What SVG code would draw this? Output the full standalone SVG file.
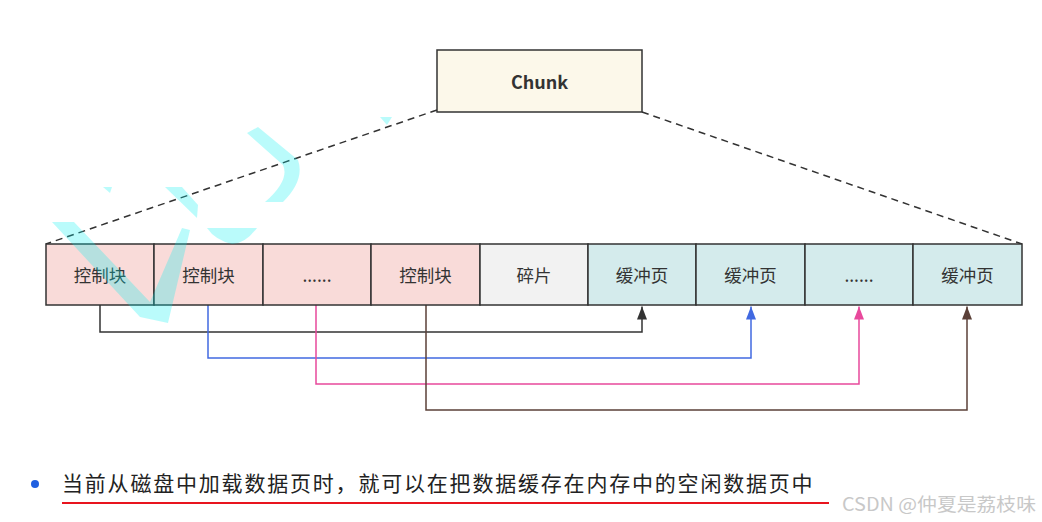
<svg xmlns="http://www.w3.org/2000/svg" width="1042" height="522" viewBox="0 0 1042 522">
<defs>
<style>
.box{stroke:#333;stroke-width:1.5}
.red{fill:#f9dbd9}
.gray{fill:#f2f2f2}
.teal{fill:#d4ebec}
.lbl{font-family:"Noto Sans CJK SC","Noto Sans",sans-serif;font-size:17.5px;fill:#333;text-anchor:middle;dominant-baseline:central}
.conn{fill:none;stroke-width:1.5}
.cy{fill:#00f0f0;fill-opacity:0.27;stroke:none}
</style>
<marker id="a1" viewBox="0 0 13 10" refX="13" refY="5" markerWidth="13" markerHeight="10" markerUnits="userSpaceOnUse" orient="auto"><path d="M0,0 L13,5 L0,10 z" fill="#333"/></marker>
<marker id="a2" viewBox="0 0 13 10" refX="13" refY="5" markerWidth="13" markerHeight="10" markerUnits="userSpaceOnUse" orient="auto"><path d="M0,0 L13,5 L0,10 z" fill="#4169e1"/></marker>
<marker id="a3" viewBox="0 0 13 10" refX="13" refY="5" markerWidth="13" markerHeight="10" markerUnits="userSpaceOnUse" orient="auto"><path d="M0,0 L13,5 L0,10 z" fill="#e8499c"/></marker>
<marker id="a4" viewBox="0 0 13 10" refX="13" refY="5" markerWidth="13" markerHeight="10" markerUnits="userSpaceOnUse" orient="auto"><path d="M0,0 L13,5 L0,10 z" fill="#5b4038"/></marker>
</defs>
<rect width="1042" height="522" fill="#fff"/>
<g id="connectors">
<path d="M437,110 L46,244" fill="none" stroke="#333" stroke-width="1.5" stroke-dasharray="7,5"/>
<path d="M642,112 L1022,244" fill="none" stroke="#333" stroke-width="1.5" stroke-dasharray="7,5"/>
<path class="conn" d="M100,305 V332 H642 V306.5" stroke="#333" marker-end="url(#a1)"/>
<path class="conn" d="M208,305 V358 H751 V306.5" stroke="#4169e1" marker-end="url(#a2)"/>
<path class="conn" d="M316,305 V384 H859 V306.5" stroke="#e8499c" marker-end="url(#a3)"/>
<path class="conn" d="M426,305 V410 H967 V306.5" stroke="#5b4038" marker-end="url(#a4)"/>
</g>
<g id="chunk">
<rect x="437" y="50" width="205" height="62" fill="#fcf8ea" class="box"/>
<text x="539.5" y="81" class="lbl" style="font-weight:bold;font-size:18px">Chunk</text>
</g>
<g id="b1"><rect x="46" y="244" width="108" height="61" class="box red"/><text x="100" y="274.5" class="lbl">控制块</text></g>
<g id="b2"><rect x="154" y="244" width="109" height="61" class="box red"/><text x="208.5" y="274.5" class="lbl">控制块</text></g>
<g id="b3"><rect x="263" y="244" width="108" height="61" class="box red"/><text x="317" y="274.5" class="lbl">......</text></g>
<g id="b4"><rect x="371" y="244" width="109" height="61" class="box red"/><text x="425.5" y="274.5" class="lbl">控制块</text></g>
<g id="b5"><rect x="480" y="244" width="108" height="61" class="box gray"/><text x="534" y="274.5" class="lbl">碎片</text></g>
<g id="b6"><rect x="588" y="244" width="108" height="61" class="box teal"/><text x="642" y="274.5" class="lbl">缓冲页</text></g>
<g id="b7"><rect x="696" y="244" width="109" height="61" class="box teal"/><text x="750.5" y="274.5" class="lbl">缓冲页</text></g>
<g id="b8"><rect x="805" y="244" width="108" height="61" class="box teal"/><text x="859" y="274.5" class="lbl">......</text></g>
<g id="b9"><rect x="913" y="244" width="109" height="61" class="box teal"/><text x="967.5" y="274.5" class="lbl">缓冲页</text></g>
<g id="scribble">
<path class="cy" d="M52,222 L74,222 L150,302 L182,228 L190,230 L168,323 L140,317 Z"/>
<path class="cy" d="M247,133 L258,127 L298,160 Q305,180 283,202 L265,202 Q290,180 283,165 Z"/>
<path class="cy" d="M103,187 L112,187 L110,193 Z"/>
<path class="cy" d="M165,187 L182,187 L198,205 L197,218 Z"/>
<path class="cy" d="M207,228 L257,228 Q245,244 232,244 Q215,240 207,228 Z"/>
<path class="cy" d="M380,117 L392,117 L387,125 Z"/>
</g>
<g id="note">
<circle cx="35" cy="484" r="4" fill="#1f5fe0"/>
<text x="62" y="491" style="font-family:'Noto Sans CJK SC',sans-serif;font-size:21px;fill:#222;letter-spacing:1.8px">当前从磁盘中加载数据页时，就可以在把数据缓存在内存中的空闲数据页中</text>
<line x1="62" y1="503" x2="829" y2="503" stroke="#e8141e" stroke-width="2"/>
<text x="842" y="511" textLength="194" lengthAdjust="spacingAndGlyphs" style="font-family:'Noto Sans CJK SC',sans-serif;font-size:18px;fill:#c8c8c8">CSDN @仲夏是荔枝味</text>
</g>
</svg>
